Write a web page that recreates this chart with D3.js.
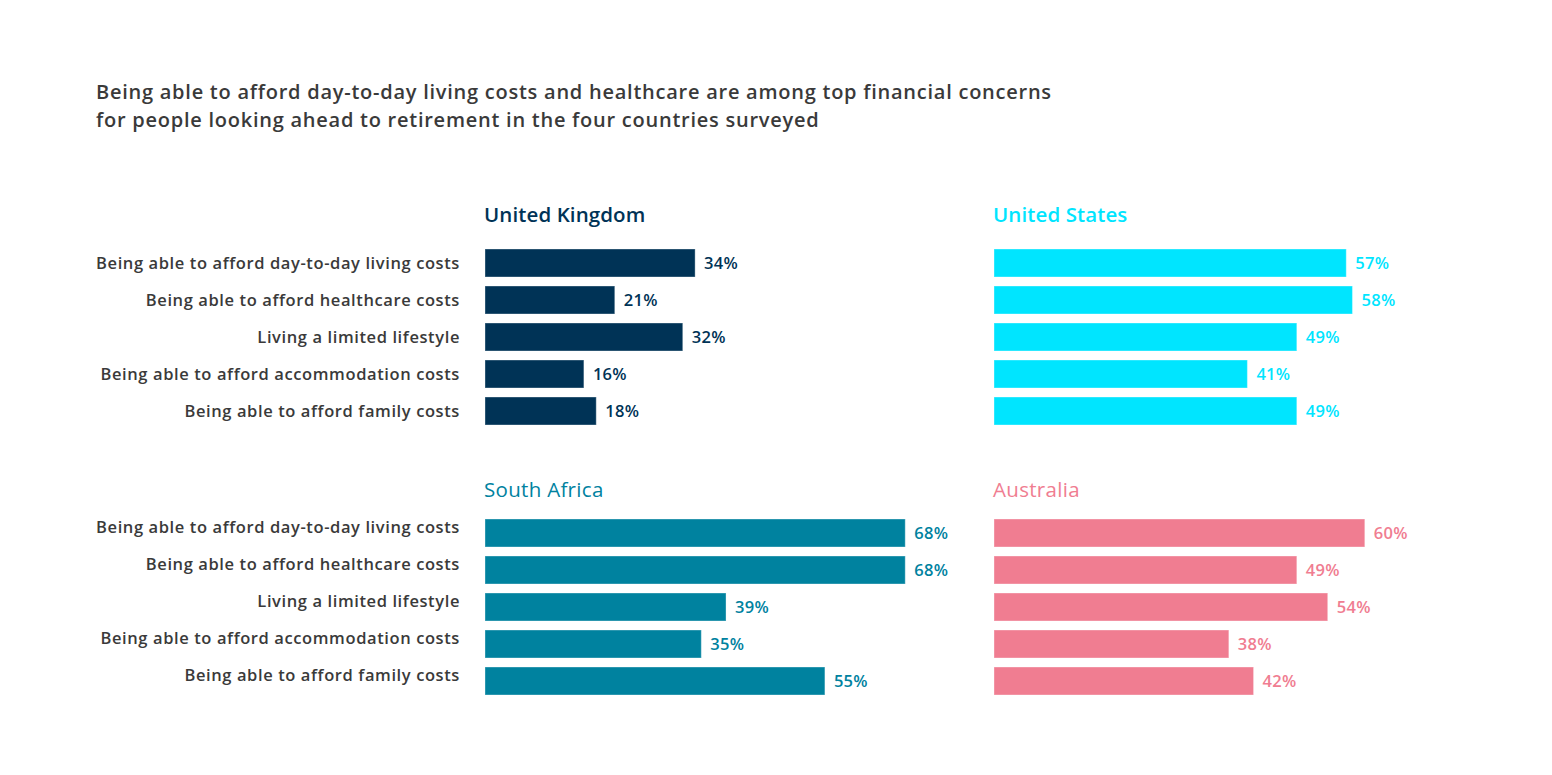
<!DOCTYPE html>
<html>
<head>
<meta charset="utf-8">
<script src="https://cdn.jsdelivr.net/npm/d3@7"></script>
<style>
  body { margin: 0; background: #fff; }
  svg text { font-family: "Open Sans", Lato, sans-serif; }
</style>
</head>
<body>
<svg id="chart" width="1552" height="775"></svg>
<script>
var titleLines = [
    'Being able to afford day-to-day living costs and healthcare are among top financial concerns',
    'for people looking ahead to retirement in the four countries surveyed'
]

var concerns = [
    'Being able to afford day-to-day living costs',
    'Being able to afford healthcare costs',
    'Living a limited lifestyle',
    'Being able to afford accommodation costs',
    'Being able to afford family costs'
]

var countries = ['United Kingdom', 'United States', 'South Africa', 'Australia']

var ukValues = [34, 21, 32, 16, 18]
var usValues = [57, 58, 49, 41, 49]
var saValues = [68, 68, 39, 35, 55]
var auValues = [60, 49, 54, 38, 42]

var colors = ['#003356', '#00e5ff', '#00829f', '#f07d91']

var svg = d3.select('#chart')

// headline
svg.append('g').selectAll('text')
    .data(titleLines)
    .join('text')
    .attr('x', 96)
    .attr('y', (d, i) => 99 + i * 28)
    .attr('fill', '#3a3a3a')
    .attr('font-size', 20)
    .attr('font-weight', 600)
    .attr('letter-spacing', 0.75)
    .text(d => d)

var x = d3.scaleLinear().domain([0, 100]).range([0, 618])
var y = d3.scaleBand().domain(concerns).range([0, 176]).paddingInner(9 / 37).paddingOuter(0)

var panels = [
    { name: countries[0], values: ukValues, color: colors[0], left: 485, top: 249, bold: true, labelShift: 0, titleGap: 27 },
    { name: countries[1], values: usValues, color: colors[1], left: 994, top: 249, bold: true, labelShift: 0, titleGap: 27 },
    { name: countries[2], values: saValues, color: colors[2], left: 485, top: 519, bold: false, labelShift: -6, titleGap: 22 },
    { name: countries[3], values: auValues, color: colors[3], left: 994, top: 519, bold: false, labelShift: 0, titleGap: 22 }
]

panels.forEach(function(p) {
    var g = svg.append('g')
        .attr('transform', 'translate(' + p.left + ',' + p.top + ')')

    g.append('text')
        .attr('x', -1)
        .attr('y', -p.titleGap)
        .attr('fill', p.color)
        .attr('font-size', 20.5)
        .attr('font-weight', p.bold ? 600 : 400)
        .attr('letter-spacing', p.bold ? 0.1 : 0.3)
        .text(p.name)

    var rows = concerns.map((c, i) => ({ concern: c, value: p.values[i] }))

    g.selectAll('rect')
        .data(rows)
        .join('rect')
        .attr('x', 0)
        .attr('y', d => y(d.concern))
        .attr('width', d => x(d.value))
        .attr('height', y.bandwidth())
        .attr('fill', p.color)
        .attr('stroke', '#ffffff')
        .attr('stroke-opacity', 0.35)
        .attr('stroke-width', 1)

    g.selectAll('.val')
        .data(rows)
        .join('text')
        .attr('class', 'val')
        .attr('x', d => x(d.value) + 9)
        .attr('y', d => y(d.concern) + y.bandwidth() / 2)
        .attr('dy', '0.35em')
        .attr('fill', p.color)
        .attr('font-size', 16.5)
        .attr('font-weight', 600)
        .attr('letter-spacing', 0.3)
        .text(d => d.value + '%')

    // category labels only on the left column
    if (p.left < 700) {
        g.selectAll('.cat')
            .data(rows)
            .join('text')
            .attr('class', 'cat')
            .attr('x', -25)
            .attr('y', d => y(d.concern) + y.bandwidth() / 2 + p.labelShift)
            .attr('dy', '0.35em')
            .attr('text-anchor', 'end')
            .attr('fill', '#3a3a3a')
            .attr('font-size', 16.5)
            .attr('font-weight', 600)
            .attr('letter-spacing', 0.6)
            .text(d => d.concern)
    }
})
</script>
</body>
</html>
